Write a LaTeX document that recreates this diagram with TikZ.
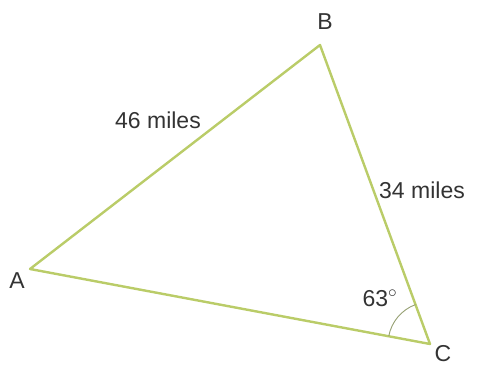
\documentclass[tikz,border=0pt]{standalone}
\usepackage{fontspec}
\setmainfont{Liberation Sans}
\usetikzlibrary{angles}
\definecolor{sidecol}{RGB}{186,204,104}
\definecolor{arccol}{RGB}{150,160,115}

\begin{document}
\begin{tikzpicture}[
  x=1pt,y=-1pt,
  font=\fontsize{23}{26}\selectfont,
  side/.style={draw=sidecol,line width=2.4pt,line join=round},
  vtx/.style={inner sep=0pt,text=black!80},
  len/.style={inner sep=1pt,text=black!80}]
\useasboundingbox (0,0) rectangle (482,366);
\coordinate (A) at (30,269);
\coordinate (B) at (320,45);
\coordinate (C) at (430,344);
\draw[side] (A) -- (B) -- (C) -- cycle;
\pic[draw=arccol,line width=0.9pt,angle radius=42pt] {angle=B--C--A};
\node[vtx] (labA) at (17,281) {A};
\node[vtx] (labB) at (325,22) {B};
\node[vtx] (labC) at (443,354) {C};
\node[len] (ab) at (158,120) {46 miles};
\node[len] (bc) at (422,190) {34 miles};
\node[len] (ang) at (380,298) {63$^{\circ}$};
\end{tikzpicture}
\end{document}
